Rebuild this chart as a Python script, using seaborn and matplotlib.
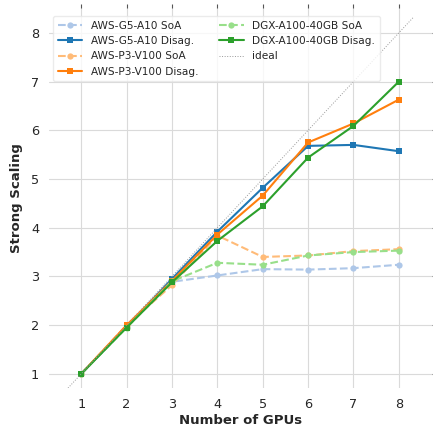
import matplotlib
matplotlib.use("Agg")
import matplotlib.pyplot as plt
import seaborn as sns
import pandas as pd

gpus = [1, 2, 3, 4, 5, 6, 7, 8]
g5_soa = [1.0, 1.97, 2.89, 3.02, 3.15, 3.14, 3.17, 3.24]
g5_dis = [1.0, 1.97, 2.95, 3.92, 4.82, 5.68, 5.70, 5.57]
p3_soa = [1.0, 2.00, 2.82, 3.84, 3.40, 3.43, 3.52, 3.56]
p3_dis = [1.0, 2.00, 2.91, 3.86, 4.66, 5.75, 6.14, 6.63]
dgx_soa = [1.0, 1.95, 2.90, 3.28, 3.24, 3.43, 3.50, 3.53]
dgx_dis = [1.0, 1.95, 2.88, 3.73, 4.44, 5.44, 6.09, 7.00]
ideal_range = [0.67, 8.33]

series = [
    ("AWS-G5-A10 SoA", g5_soa, "#aec7e8", "--", "o"),
    ("AWS-G5-A10 Disag.", g5_dis, "#1f77b4", "-", "s"),
    ("AWS-P3-V100 SoA", p3_soa, "#ffbb78", "--", "o"),
    ("AWS-P3-V100 Disag.", p3_dis, "#ff7f0e", "-", "s"),
    ("DGX-A100-40GB SoA", dgx_soa, "#98df8a", "--", "o"),
    ("DGX-A100-40GB Disag.", dgx_dis, "#2ca02c", "-", "s"),
]

sns.set_theme(style="whitegrid")
plt.rcParams['font.family'] = ['DejaVu Sans']

fig = plt.figure(figsize=(4.33, 4.30), dpi=100)
ax = fig.add_axes([49/433, (430-388)/430, (432-49)/433, (388-8)/430])

for name, vals, col, ls, mk in series:
    df = pd.DataFrame({"x": gpus, "y": vals})
    sns.lineplot(data=df, x="x", y="y", ax=ax, color=col, linestyle=ls,
                 marker=mk, markersize=4.5, markeredgewidth=0, linewidth=1.5,
                 label=name)

sns.lineplot(x=ideal_range, y=ideal_range, ax=ax, color="#999999",
             linestyle=":", linewidth=0.7, label="ideal")

ax.set_xlim(0.29, 8.73)
ax.set_ylim(0.71, 8.51)
ax.set_xticks(gpus)
ax.set_yticks(range(1, 9))
for s in ax.spines.values():
    s.set_visible(False)
ax.grid(True, color="#dadada", linewidth=0.8)
ax.tick_params(axis="both", which="major", length=3, width=0.8, color="#555555",
               labelsize=9.3, pad=4, top=True, right=True, labeltop=False, labelright=False)
ax.set_xlabel("Number of GPUs", fontsize=9.5, fontweight="bold", labelpad=2)
ax.set_ylabel("Strong Scaling", fontsize=9.5, fontweight="bold", labelpad=6)

leg = ax.legend(loc="upper left", ncol=2, fontsize=7.6, frameon=True,
                bbox_to_anchor=(0.0, 0.99), handlelength=2.3, columnspacing=2.0,
                labelspacing=0.5, borderpad=0.45, borderaxespad=0.4)
leg.get_frame().set_edgecolor("#e6e6e6")

fig.savefig("out.png", dpi=100)
